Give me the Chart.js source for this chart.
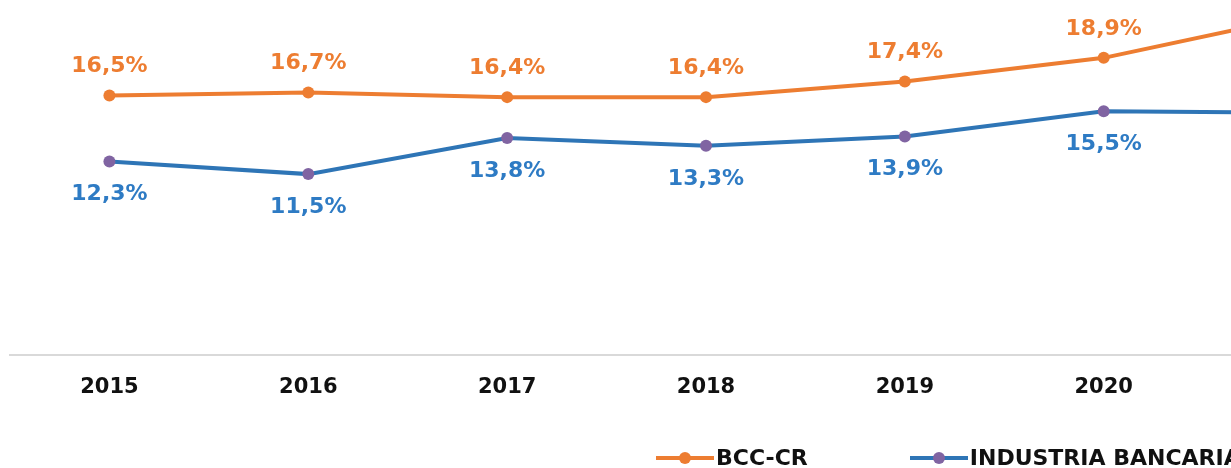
<!DOCTYPE html>
<html>
<head>
<meta charset="utf-8">
<script src="https://cdn.jsdelivr.net/npm/chart.js@4/dist/chart.umd.min.js"></script>
<style>
  html, body { margin: 0; padding: 0; background: #fff; overflow: hidden; }
  #wrap { position: relative; width: 1412px; height: 468px; }
  #legend { position: absolute; top: 445px; left: 656px; display: flex; font: bold 22px "DejaVu Sans", sans-serif; color: #111; }
  .item { display: flex; align-items: center; margin-right: 102px; }
  .sym { position: relative; width: 58px; height: 4px; margin-right: 2px; }
  .sym i { position: absolute; left: 23px; top: -4px; width: 12px; height: 12px; border-radius: 50%; }
</style>
</head>
<body>
<div id="wrap">
  <canvas id="chart" width="1412" height="468"></canvas>
  <div id="legend">
    <div class="item"><span class="sym" style="background:#ED7D31"><i style="background:#ED7D31"></i></span>BCC-CR</div>
    <div class="item"><span class="sym" style="background:#2E75B6"><i style="background:#8064A2"></i></span>INDUSTRIA BANCARIA</div>
  </div>
</div>
<script>
const years = ['2015', '2016', '2017', '2018', '2019', '2020', '2021']
const bccValues = [16.5, 16.7, 16.4, 16.4, 17.4, 18.9, 21.6]
const industriaValues = [12.3, 11.5, 13.8, 13.3, 13.9, 15.5, 15.4]

const fontFamily = '"DejaVu Sans", sans-serif'

// value labels: orange above, blue below
const valueLabels = {
  id: 'valueLabels',
  afterDatasetsDraw(chart) {
    const ctx = chart.ctx
    ctx.save()
    ctx.font = 'bold 22px ' + fontFamily
    ctx.textAlign = 'center'
    ctx.textBaseline = 'middle'
    chart.data.datasets.forEach((ds, i) => {
      const meta = chart.getDatasetMeta(i)
      meta.data.forEach((pt, j) => {
        const txt = ds.data[j].toFixed(1).replace('.', ',') + '%'
        ctx.fillStyle = ds.labelColor
        const dy = i === 0 ? -29 : 33
        ctx.fillText(txt, pt.x, pt.y + dy)
      })
    })
    ctx.restore()
  }
}

new Chart(document.getElementById('chart').getContext('2d'), {
  type: 'line',
  data: {
    labels: years,
    datasets: [
      {
        label: 'BCC-CR',
        data: bccValues,
        borderColor: '#ED7D31',
        backgroundColor: '#ED7D31',
        pointBackgroundColor: '#ED7D31',
        pointBorderWidth: 0,
        pointRadius: 6,
        borderWidth: 4,
        labelColor: '#ED7D31',
        tension: 0,
        clip: false,
      },
      {
        label: 'INDUSTRIA BANCARIA',
        data: industriaValues,
        borderColor: '#2E75B6',
        backgroundColor: '#8064A2',
        pointBackgroundColor: '#8064A2',
        pointBorderWidth: 0,
        pointRadius: 6,
        borderWidth: 4,
        labelColor: '#2E7BC4',
        tension: 0,
        clip: false,
      },
    ],
  },
  options: {
    responsive: false,
    animation: false,
    layout: { padding: { left: 10, right: 10, top: 0, bottom: 48 } },
    plugins: {
      legend: { display: false },
      tooltip: { enabled: false },
    },
    scales: {
      x: {
        offset: true,
        grid: { display: false, drawTicks: false },
        border: { display: true, color: '#D9D9D9', width: 2 },
        ticks: {
          color: '#111',
          padding: 20,
          font: { family: fontFamily, size: 21, weight: 'bold' },
        },
      },
      y: {
        display: false,
        min: 0,
        max: 22.2,
      },
    },
  },
  plugins: [valueLabels],
})
</script>
</body>
</html>
